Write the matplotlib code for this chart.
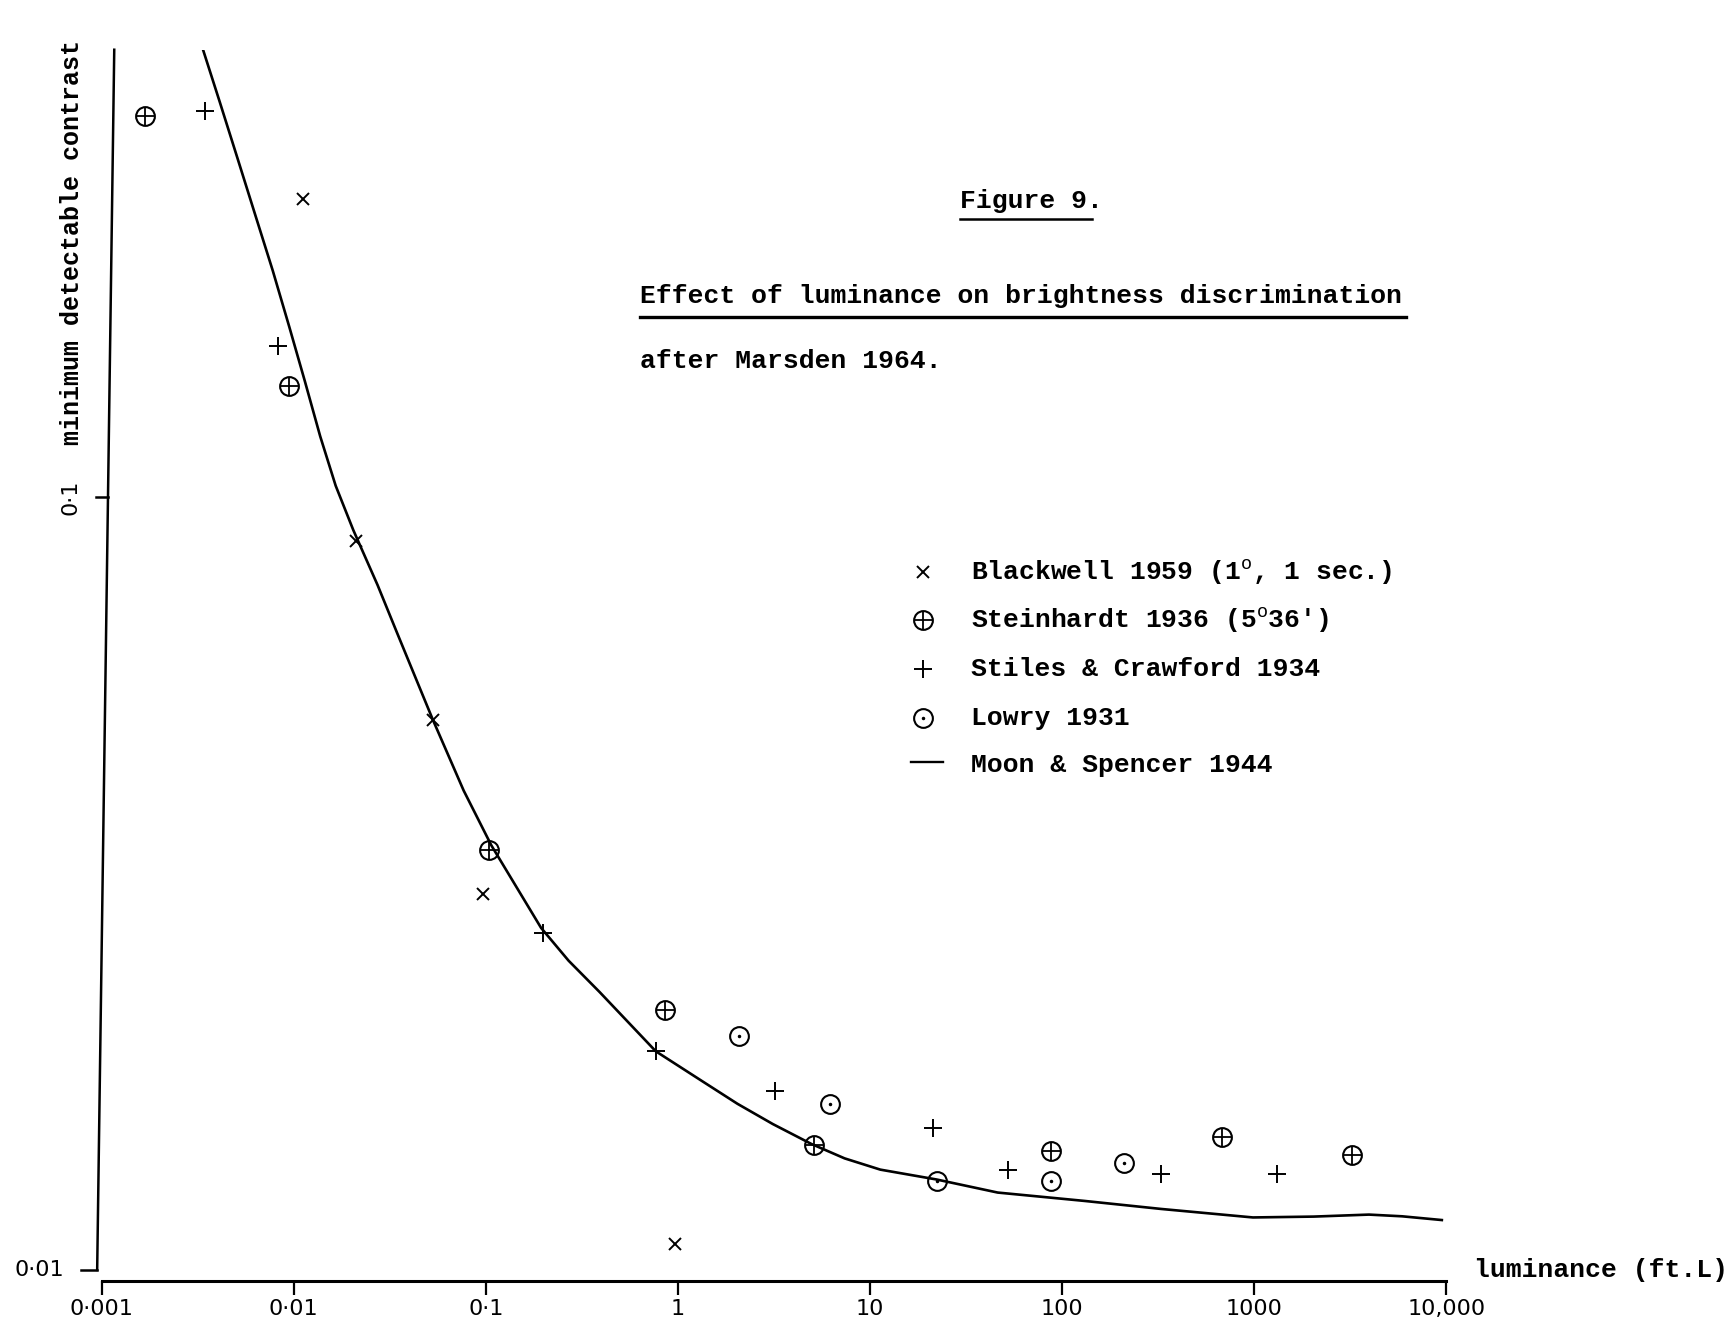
import matplotlib
matplotlib.use('Agg')
import matplotlib.pyplot as plt
import matplotlib.transforms as mtransforms
from matplotlib.lines import Line2D
from matplotlib.ticker import NullLocator, FixedLocator

plt.rcParams['font.family'] = ['Liberation Mono', 'DejaVu Sans']
plt.rcParams['mathtext.fontset'] = 'custom'
plt.rcParams['mathtext.rm'] = 'Liberation Mono'

# Moon & Spencer 1944 curve (luminance in ft.L, minimum detectable contrast)
curve_lum = [0.00333, 0.004118, 0.005091, 0.006293, 0.007778, 0.009484, 0.01142,
             0.01374, 0.01654, 0.02043, 0.02734, 0.0347, 0.0530, 0.0767, 0.107,
             0.194, 0.2698, 0.3913, 0.767, 1.331, 2.043, 3.121, 4.959, 7.376, 11.32,
             22.21, 46.23, 130.8, 327.7, 985.6, 2043, 3960, 5890, 9485]
curve_con = [0.3828, 0.3246, 0.2746, 0.2321, 0.1963, 0.1660, 0.1413,
             0.1198, 0.1034, 0.0906, 0.0769, 0.0665, 0.0515, 0.0417, 0.0354,
             0.0277, 0.02512, 0.02288, 0.01918, 0.01756, 0.01640, 0.01544, 0.01455,
             0.01394, 0.01348, 0.01309, 0.01259, 0.01228, 0.01199, 0.01169, 0.01172,
             0.01179, 0.01173, 0.01160]

# Blackwell 1959 (1 deg, 1 sec.)
blackwell_lum = [0.01112, 0.0210, 0.0530, 0.0962, 0.962]
blackwell_con = [0.243, 0.0877, 0.0515, 0.0306, 0.01079]

# Steinhardt 1936
steinhardt_lum = [0.00168, 0.00948, 0.104, 0.853, 5.09, 87.7, 681, 3245]
steinhardt_con = [0.311, 0.139, 0.0349, 0.0217, 0.01450, 0.01427, 0.01484, 0.01409]

# Stiles & Crawford 1934
stiles_lum = [0.00347, 0.00832, 0.199, 0.767, 3.21, 21.3, 52.3, 329, 1321]
stiles_con = [0.316, 0.157, 0.0273, 0.0192, 0.01703, 0.01524, 0.01345, 0.01331, 0.01331]

# Lowry 1931
lowry_lum = [2.07, 6.21, 22.4, 87.7, 210]
lowry_con = [0.0201, 0.01637, 0.01305, 0.01305, 0.01376]

x_ticks = [0.001, 0.01, 0.1, 1, 10, 100, 1000, 10000]
x_labels = ['0·001', '0·01', '0·1', '1', '10', '100', '1000', '10,000']
y_ticks = [0.01, 0.1]
y_labels = ['0·01', '0·1']

legend_labels = ['Blackwell 1959 (1$^{\\mathrm{o}}$, 1 sec.)',
                 "Steinhardt 1936 (5$^{\\mathrm{o}}$36')",
                 'Stiles & Crawford 1934',
                 'Lowry 1931',
                 'Moon & Spencer 1944']


def draw_cross(ax, x, y, **kw):
    ax.plot(x, y, 'x', color='k', ms=9, mew=1.4, ls='none', **kw)


def draw_plus_circle(ax, x, y, **kw):
    ax.plot(x, y, 'o', mfc='none', mec='k', ms=13.5, mew=1.5, ls='none', **kw)
    ax.plot(x, y, '+', color='k', ms=13.5, mew=1.3, ls='none', **kw)


def draw_plus(ax, x, y, **kw):
    ax.plot(x, y, '+', color='k', ms=13, mew=1.4, ls='none', **kw)


def draw_dot_circle(ax, x, y, **kw):
    ax.plot(x, y, 'o', mfc='none', mec='k', ms=13.5, mew=1.5, ls='none', **kw)
    ax.plot(x, y, '.', color='k', ms=3, ls='none', **kw)


fig = plt.figure(figsize=(17.31, 13.26), dpi=100)
ax = fig.add_axes([0.0587, 0.0341, 0.7768, 0.9284])
ax.set_xscale('log')
ax.set_yscale('log')
ax.set_xlim(0.001, 10000)
ax.set_ylim(0.00968, 0.379)

ax.plot(curve_lum, curve_con, color='k', lw=1.9, solid_joinstyle='round')
draw_cross(ax, blackwell_lum, blackwell_con)
draw_plus_circle(ax, steinhardt_lum, steinhardt_con)
draw_plus(ax, stiles_lum, stiles_con)
draw_dot_circle(ax, lowry_lum, lowry_con)

for side in ['top', 'right', 'left']:
    ax.spines[side].set_visible(False)
ax.spines['bottom'].set_linewidth(2.2)

ax.xaxis.set_major_locator(FixedLocator(x_ticks))
ax.xaxis.set_minor_locator(NullLocator())
ax.set_xticklabels(x_labels, family='DejaVu Sans', fontsize=16)
ax.tick_params(axis='x', direction='out', length=10, width=1.6, pad=3)
ax.yaxis.set_major_locator(NullLocator())
ax.yaxis.set_minor_locator(NullLocator())

# hand-ruled contrast axis, leaning slightly to the right at the top
trans = mtransforms.blended_transform_factory(ax.transAxes, ax.transData)
lean = dict(transform=trans, clip_on=False, color='k')
ax.plot([0.0094, -0.0033], [0.379, 0.01], lw=1.8, **lean)
tick_x = [-0.0033, 0.0048]
tick_len = [0.0123, 0.0091]
for yt, xa, tl in zip(y_ticks, tick_x, tick_len):
    ax.plot([xa, xa - tl], [yt, yt], lw=1.8, **lean)
ax.text(-0.046, y_ticks[0], y_labels[0], family='DejaVu Sans', fontsize=16,
        ha='center', va='center', transform=trans)
ax.text(-0.023, y_ticks[1], y_labels[1], family='DejaVu Sans', fontsize=16,
        rotation=90, ha='center', va='center', transform=trans)

# titles
fig.text(0.5548, 0.8485, 'Figure 9.', fontsize=19, weight='bold', va='center')
fig.add_artist(Line2D([0.5548, 0.631], [0.835, 0.835], transform=fig.transFigure, color='k', lw=1.8))
fig.text(0.3699, 0.7769, 'Effect of luminance on brightness discrimination',
         fontsize=19, weight='bold', va='center')
fig.add_artist(Line2D([0.3699, 0.8125], [0.761, 0.761], transform=fig.transFigure, color='k', lw=2.4))
fig.text(0.3699, 0.7277, 'after Marsden 1964.', fontsize=19, weight='bold', va='center')

# axis labels
fig.text(0.0415, 0.8168, 'minimum detectable contrast', fontsize=18, weight='bold',
         rotation=90, ha='center', va='center')
fig.text(0.8514, 0.0425, 'luminance (ft.L)', fontsize=19, weight='bold', va='center')

# key
key_x = 0.533
key_rows = [1 - 518 / 1201, 1 - 562 / 1201, 1 - 606 / 1201, 1 - 650 / 1201, 1 - 693 / 1201]
kw = dict(transform=fig.transFigure, clip_on=False)
draw_cross(ax, [key_x], [key_rows[0]], **kw)
draw_plus_circle(ax, [key_x], [key_rows[1]], **kw)
draw_plus(ax, [key_x], [key_rows[2]], **kw)
draw_dot_circle(ax, [key_x], [key_rows[3]], **kw)
ax.plot([key_x - 0.0065, key_x + 0.0115], [key_rows[4] + 0.002, key_rows[4] + 0.002],
        color='k', lw=1.7, **kw)
for row, label in zip(key_rows, legend_labels):
    fig.text(0.5612, row, label, fontsize=19, weight='bold', va='center')

fig.savefig('out.png', dpi=100, facecolor='white')
